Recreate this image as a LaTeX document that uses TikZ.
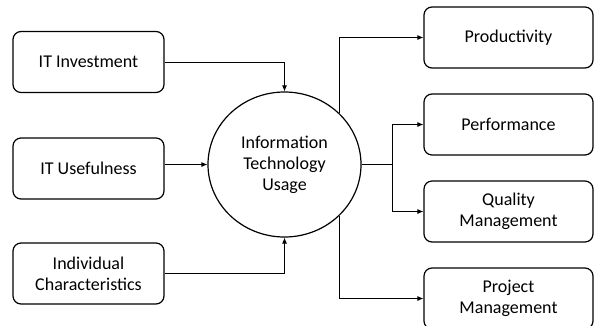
\documentclass[tikz,border=0pt]{standalone}
\usepackage{fontspec}
\setmainfont{Carlito}
\usetikzlibrary{shapes.geometric,arrows.meta,calc}
\begin{document}
\begin{tikzpicture}[x=1pt,y=-1pt,
  box/.style={draw=black,line width=1.2pt,rounded corners=8pt,fill=white,
    align=center,font=\fontsize{18}{21}\selectfont,inner sep=0pt},
  inbox/.style={box,minimum width=151pt,minimum height=61pt},
  outbox/.style={box,minimum width=169pt,minimum height=61pt},
  hub/.style={draw=black,line width=1.2pt,ellipse,fill=white,inner sep=0pt,
    minimum width=153pt,minimum height=145pt,align=center,
    font=\fontsize{18}{21}\selectfont},
  link/.style={draw=black,line width=0.8pt,-{Latex[length=6pt,width=5pt]}}]
\useasboundingbox (0,0) rectangle (596,325);
\fill[white] (0,0) rectangle (596,325);

% input factors
\node[inbox] (inv) at (88.5,62) {IT Investment};
\node[inbox] (use) at (88.5,168.5) {IT Usefulness};
\node[inbox] (ind) at (88.5,273.5) {Individual\\Characteristics};

% central construct
\node[hub] (usage) at (284.5,164.5) {Information\\Technology\\Usage};

% outcomes
\node[outbox] (prod) at (508.5,37.5) {Productivity};
\node[outbox] (perf) at (508.5,124.5) {Performance};
\node[outbox] (qual) at (508.5,211.5) {Quality\\Management};
\node[outbox] (proj) at (508.5,298.5) {Project\\Management};

% inputs into usage
\draw[link] (inv.east) -| (usage.north);
\draw[link] (use.east |- usage.west) -- (usage.west);
\draw[link] (ind.east) -| (usage.south);

% usage to outcomes
\coordinate (split) at (392,164.5);
\draw[link] (usage.north east) |- (prod.west);
\draw[line width=0.8pt] (usage.east) -- (split);
\draw[link] (split) |- (perf.west);
\draw[link] (split) |- (qual.west);
\draw[link] (usage.south east) |- (proj.west);
\end{tikzpicture}
\end{document}
